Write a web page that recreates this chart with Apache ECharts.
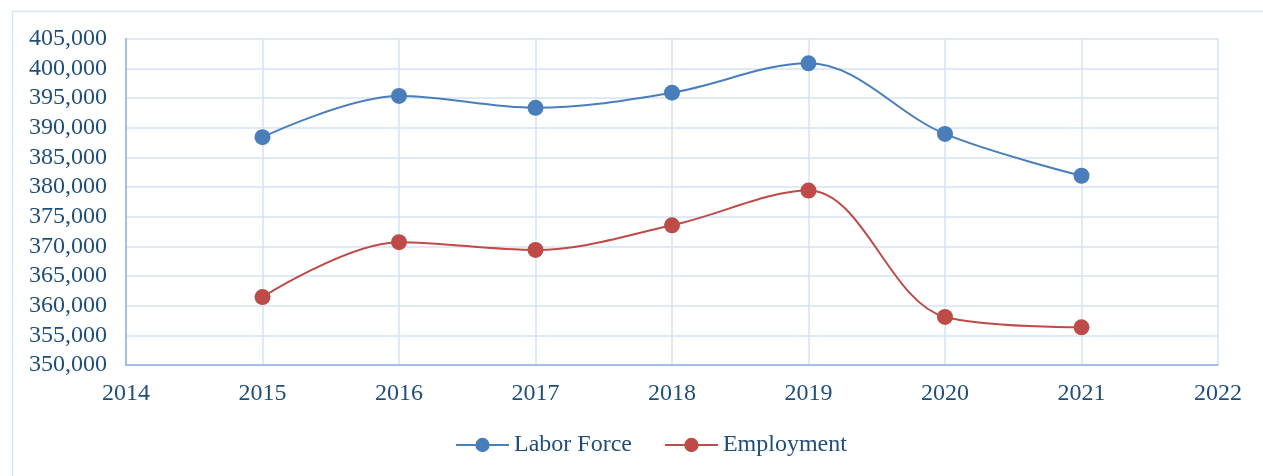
<!DOCTYPE html>
<html>
<head>
<meta charset="utf-8">
<script src="https://cdn.jsdelivr.net/npm/echarts@6/dist/echarts.min.js"></script>
<style>
  html, body { margin: 0; padding: 0; background: #fff; }
  #chart { width: 1263px; height: 476px; }
</style>
</head>
<body>
<div id="chart"></div>
<script>
const years = [2015, 2016, 2017, 2018, 2019, 2020, 2021];
const laborForce = [388400, 395350, 393350, 395900, 400850, 388950, 381900];
const employment = [361450, 370700, 369400, 373550, 379400, 358100, 356350];

const textColor = "#1F4E79";
const gridColor = "#D5E3F3";
const axisColor = "#8DB3E2";
const fontFamily = "'Liberation Serif', 'Times New Roman', serif";

const chart = echarts.init(document.getElementById("chart"), null, { renderer: "canvas" });

function pairs(values){
  return years.map((y, i) => [y, values[i]]);
}

chart.setOption({
  animation: false,
  backgroundColor: "#fff",
  textStyle: { fontFamily },
  graphic: [
    {
      type: "rect",
      left: 10,
      top: 9,
      shape: { width: 1270, height: 480 },
      style: { fill: "none", stroke: "#D9E5F4", lineWidth: 1.5 },
      silent: true
    }
  ],
  grid: { left: 126, right: 45, top: 38.7, bottom: 111 },
  legend: {
    bottom: 14,
    left: 450,
    itemWidth: 53,
    itemHeight: 18,
    itemGap: 32,
    textStyle: { color: textColor, fontSize: 24, fontFamily },
    data: ["Labor Force", "Employment"]
  },
  xAxis: {
    type: "value",
    min: 2014,
    max: 2022,
    interval: 1,
    axisLine: { show: true, lineStyle: { color: axisColor, width: 1.5 } },
    axisTick: { show: false },
    axisLabel: { color: textColor, fontSize: 24, margin: 17, fontFamily, formatter: (v) => String(v) },
    splitLine: { show: true, lineStyle: { color: gridColor, width: 1.5 } }
  },
  yAxis: {
    type: "value",
    min: 350000,
    max: 405000,
    interval: 5000,
    axisLine: { show: true, lineStyle: { color: axisColor, width: 1.5 } },
    axisTick: { show: false },
    axisLabel: {
      color: textColor,
      fontSize: 24,
      margin: 19,
      fontFamily,
      formatter: (v) => v.toLocaleString("en-US")
    },
    splitLine: { show: true, lineStyle: { color: gridColor, width: 1.5 } }
  },
  series: [
    {
      name: "Labor Force",
      type: "line",
      smooth: 0.35,
      data: pairs(laborForce),
      symbol: "circle",
      symbolSize: 16,
      color: "#4A7EBB",
      lineStyle: { width: 2, color: "#4A7EBB" },
      itemStyle: { color: "#4A7EBB" }
    },
    {
      name: "Employment",
      type: "line",
      smooth: 0.35,
      data: pairs(employment),
      symbol: "circle",
      symbolSize: 16,
      color: "#BE4B48",
      lineStyle: { width: 2, color: "#BE4B48" },
      itemStyle: { color: "#BE4B48" }
    }
  ]
});
</script>
</body>
</html>
